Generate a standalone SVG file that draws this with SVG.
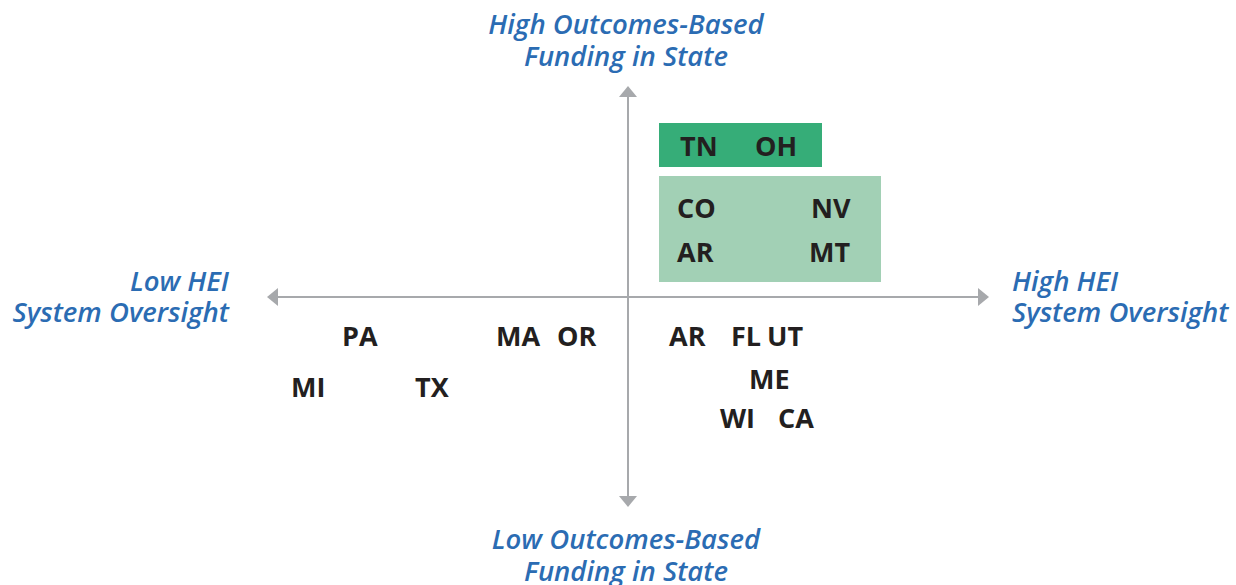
<svg xmlns="http://www.w3.org/2000/svg" width="1236" height="585" viewBox="0 0 1236 585">
  <style>
    .axis-label { font-family: "Open Sans", "Liberation Sans", sans-serif; font-style: italic; font-weight: 600; font-size: 27.5px; fill: #2b6cb3; }
    .state { font-family: "Open Sans", "Liberation Sans", sans-serif; font-weight: 700; font-size: 27px; fill: #231f20; }
    .axis { stroke: #a7a9ac; stroke-width: 2; fill: none; }
    .head { fill: #a7a9ac; }
  </style>
  <rect width="1236" height="585" fill="#ffffff"/>

  <!-- axes -->
  <g id="connectors">
    <line class="axis" x1="628" y1="96" x2="628" y2="497"/>
    <line class="axis" x1="278" y1="297" x2="979" y2="297"/>
    <polygon class="head" points="628,86 619,97 637,97"/>
    <polygon class="head" points="628,507 619,496 637,496"/>
    <polygon class="head" points="267,297 278,288 278,306"/>
    <polygon class="head" points="989,297 978,288 978,306"/>
  </g>

  <!-- axis labels -->
  <g id="label-top">
    <text class="axis-label" x="626" y="34" text-anchor="middle">High Outcomes-Based</text>
    <text class="axis-label" x="626" y="66" text-anchor="middle">Funding in State</text>
  </g>
  <g id="label-bottom">
    <text class="axis-label" x="626" y="549" text-anchor="middle">Low Outcomes-Based</text>
    <text class="axis-label" x="626" y="581" text-anchor="middle">Funding in State</text>
  </g>
  <g id="label-left">
    <text class="axis-label" x="229" y="291" text-anchor="end">Low HEI</text>
    <text class="axis-label" x="229" y="322" text-anchor="end">System Oversight</text>
  </g>
  <g id="label-right">
    <text class="axis-label" x="1012" y="291">High HEI</text>
    <text class="axis-label" x="1012" y="322">System Oversight</text>
  </g>

  <!-- top-right boxes -->
  <g id="box-dark">
    <rect x="659" y="123" width="163" height="44" fill="#36ad78"/>
    <text class="state" x="680" y="156">TN</text>
    <text class="state" x="755" y="156">OH</text>
  </g>
  <g id="box-light">
    <rect x="659" y="176" width="222" height="106" fill="#a2d0b5"/>
    <text class="state" x="677" y="218">CO</text>
    <text class="state" x="811" y="218">NV</text>
    <text class="state" x="677" y="262">AR</text>
    <text class="state" x="809" y="262">MT</text>
  </g>

  <!-- lower-left states -->
  <g id="states-lower-left">
    <text class="state" x="342" y="346">PA</text>
    <text class="state" x="496" y="346">MA</text>
    <text class="state" x="557" y="346">OR</text>
    <text class="state" x="291" y="397">MI</text>
    <text class="state" x="415" y="397">TX</text>
  </g>

  <!-- lower-right states -->
  <g id="states-lower-right">
    <text class="state" x="669" y="346">AR</text>
    <text class="state" x="731" y="346">FL</text>
    <text class="state" x="767" y="346">UT</text>
    <text class="state" x="749" y="389">ME</text>
    <text class="state" x="720" y="428">WI</text>
    <text class="state" x="778" y="428">CA</text>
  </g>
</svg>
